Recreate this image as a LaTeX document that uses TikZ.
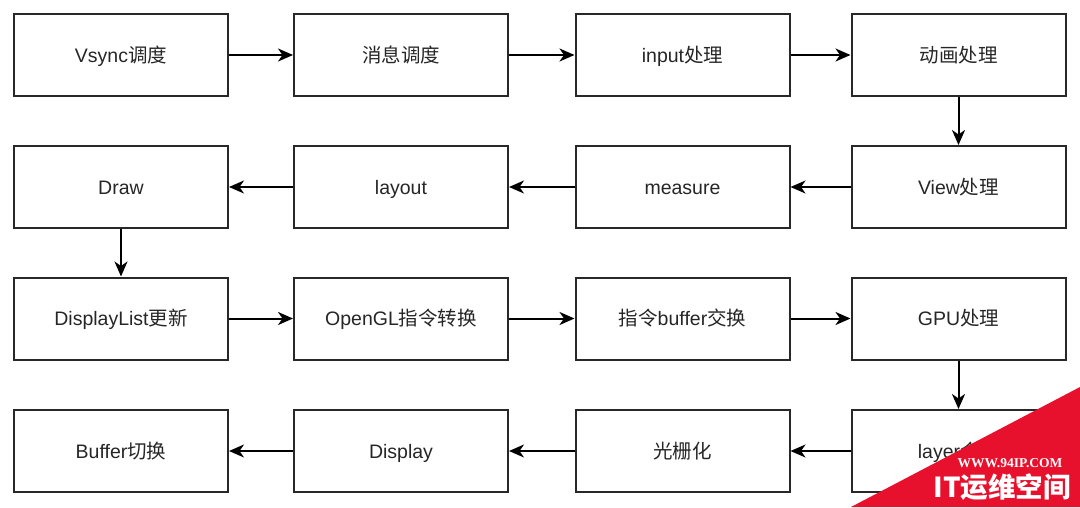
\documentclass[tikz,border=0pt]{standalone}
\usepackage{fontspec}
\setmainfont{Liberation Sans}
\newfontfamily\cjk{Noto Sans CJK SC}
\newfontfamily\badgeserif{Liberation Serif}
\usetikzlibrary{arrows.meta}
\definecolor{badgered}{RGB}{232,17,45}
\definecolor{linegray}{RGB}{40,40,40}
\begin{document}
\begin{tikzpicture}[x=1pt,y=-1pt,
  box/.style={draw=linegray,line width=2pt,minimum width=214pt,minimum height=82pt,inner sep=0pt,
    text height=15pt,text depth=1pt,
    font=\fontsize{19.5}{23}\selectfont,text=black!85},
  flow/.style={draw=black,line width=2pt,-{Stealth[length=15pt,width=13pt,inset=4.5pt]}}
]
\useasboundingbox (0,0) rectangle (1080,507);
\fill[white] (0,0) rectangle (1080,507);
% boxes
\node[box] (a1) at (121,55) {Vsync{\cjk 调度}};
\node[box] (a2) at (401,55) {{\cjk 消息调度}};
\node[box] (a3) at (682.5,55) {input{\cjk 处理}};
\node[box] (a4) at (958.5,55) {{\cjk 动画处理}};
\node[box] (b4) at (958.5,187) {View{\cjk 处理}};
\node[box] (b3) at (682.5,187) {measure};
\node[box] (b2) at (401,187) {layout};
\node[box] (b1) at (121,187) {Draw};
\node[box] (c1) at (121,318.5) {DisplayList{\cjk 更新}};
\node[box] (c2) at (401,318.5) {OpenGL{\cjk 指令转换}};
\node[box] (c3) at (682.5,318.5) {{\cjk 指令}buffer{\cjk 交换}};
\node[box] (c4) at (958.5,318.5) {GPU{\cjk 处理}};
\node[box] (d4) at (958.5,451) {layer{\cjk 合成}};
\node[box] (d3) at (682.5,451) {{\cjk 光栅化}};
\node[box] (d2) at (401,451) {Display};
\node[box] (d1) at (121,451) {Buffer{\cjk 切换}};
% connectors
\draw[flow] (a1) -- (a2);
\draw[flow] (a2) -- (a3);
\draw[flow] (a3) -- (a4);
\draw[flow] (a4) -- (b4);
\draw[flow] (b4) -- (b3);
\draw[flow] (b3) -- (b2);
\draw[flow] (b2) -- (b1);
\draw[flow] (b1) -- (c1);
\draw[flow] (c1) -- (c2);
\draw[flow] (c2) -- (c3);
\draw[flow] (c3) -- (c4);
\draw[flow] (c4) -- (d4);
\draw[flow] (d4) -- (d3);
\draw[flow] (d3) -- (d2);
\draw[flow] (d2) -- (d1);
% corner badge
\fill[badgered] (851,507) -- (1080,387) -- (1080,507) -- cycle;
\node[text=white,font=\badgeserif\bfseries\fontsize{13.5}{15}\selectfont,anchor=center] (badge1) at (1010,463) {WWW.94IP.COM};
\node[text=white,font=\cjk\bfseries\fontsize{27.5}{30}\selectfont,anchor=center] (badge2) at (1002,487) {IT运维空间};
\end{tikzpicture}
\end{document}
